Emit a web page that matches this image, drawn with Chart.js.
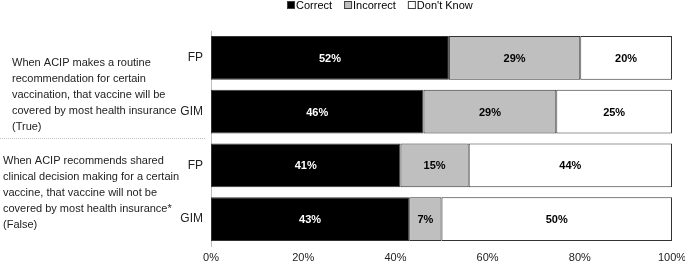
<!DOCTYPE html>
<html>
<head>
<meta charset="utf-8">
<script src="https://cdn.jsdelivr.net/npm/chart.js@4.4.1/dist/chart.umd.min.js"></script>
<style>
  html, body { margin: 0; padding: 0; background: #fff; }
  #wrap { width: 685px; height: 263px; position: relative; }
</style>
</head>
<body>
<div id="wrap"><canvas id="chart" width="685" height="263"></canvas></div>
<script>
// Data
const categories = ["FP", "GIM", "FP", "GIM"];
const correct = [51.6, 46.1, 41.1, 43.0];
const incorrect = [28.5, 28.8, 14.8, 7.0];
const dontKnow = [19.9, 25.1, 44.1, 50.0];
const correctLabels = ["52%", "46%", "41%", "43%"];
const incorrectLabels = ["29%", "29%", "15%", "7%"];
const dontKnowLabels = ["20%", "25%", "44%", "50%"];
const xTicks = [0, 20, 40, 60, 80, 100];
const seriesNames = ["Correct", "Incorrect", "Don't Know"];
const questionLines = [
  ["When ACIP makes a routine", "recommendation for certain", "vaccination, that vaccine will be",
   "covered by most health insurance", "(True)"],
  ["When ACIP recommends shared", "clinical decision making for a certain",
   "vaccine, that vaccine will not be", "covered by most health insurance*", "(False)"],
];

const FONT = '"Liberation Sans", Arial, sans-serif';
const colors = ["#000000", "#bfbfbf", "#ffffff"];
const labelSets = [correctLabels, incorrectLabels, dontKnowLabels];

// bar value labels
const barLabels = {
  id: "barLabels",
  afterDatasetsDraw(chart) {
    const ctx = chart.ctx;
    ctx.save();
    ctx.font = "bold 11px " + FONT;
    ctx.textAlign = "center";
    ctx.textBaseline = "middle";
    chart.data.datasets.forEach((ds, i) => {
      const meta = chart.getDatasetMeta(i);
      meta.data.forEach((bar, j) => {
        ctx.fillStyle = i === 0 ? "#ffffff" : "#000000";
        ctx.fillText(labelSets[i][j], (bar.x + bar.base) / 2, bar.y + 1);
      });
    });
    ctx.restore();
  },
};

// legend + question text on the left
const extras = {
  id: "extras",
  afterDraw(chart) {
    const ctx = chart.ctx;
    ctx.save();
    // legend
    ctx.font = "11px " + FONT;
    ctx.textBaseline = "middle";
    let x = 287;
    const y = 5;
    seriesNames.forEach((name, i) => {
      ctx.fillStyle = colors[i];
      ctx.fillRect(x, y - 4, 8, 8);
      ctx.strokeStyle = "#404040";
      ctx.lineWidth = 1;
      ctx.strokeRect(x + 0.5, y - 3.5, 7, 7);
      ctx.fillStyle = "#000";
      ctx.textAlign = "left";
      ctx.fillText(name, x + 9, y + 1);
      x += 9 + ctx.measureText(name).width + 12;
    });

    // questions
    ctx.font = "11px " + FONT;
    ctx.fillStyle = "#222";
    questionLines[0].forEach((line, k) => ctx.fillText(line, 12, 63 + k * 16));
    questionLines[1].forEach((line, k) => ctx.fillText(line, 3, 161 + k * 16));

    // dotted separator
    ctx.strokeStyle = "#bfbfbf";
    ctx.setLineDash([1, 1]);
    ctx.beginPath();
    ctx.moveTo(0, 138.5);
    ctx.lineTo(206, 138.5);
    ctx.stroke();
    ctx.restore();
  },
};

new Chart(document.getElementById("chart"), {
  type: "bar",
  data: {
    labels: categories,
    datasets: [
      { label: seriesNames[0], data: correct },
      { label: seriesNames[1], data: incorrect },
      { label: seriesNames[2], data: dontKnow },
    ].map((d, i) => ({
      ...d,
      backgroundColor: colors[i],
      borderColor: "#333333",
      borderWidth: 1,
      borderSkipped: false,
      barPercentage: 0.81,
      categoryPercentage: 1,
    })),
  },
  options: {
    indexAxis: "y",
    responsive: false,
    animation: false,
    layout: { padding: { top: 31, right: 0, left: 0, bottom: 0 } },
    plugins: { legend: { display: false }, tooltip: { enabled: false } },
    scales: {
      x: {
        stacked: true,
        min: 0,
        max: 100,
        afterBuildTicks: (s) => { s.ticks = xTicks.map((v) => ({ value: v })); },
        afterFit: (s) => { s.height = 17; s.paddingRight = 13; },
        ticks: { callback: (v) => v + "%", color: "#222", font: { family: FONT, size: 11 }, padding: 5, maxRotation: 0 },
        grid: { display: false, drawTicks: false },
        border: { display: false },
      },
      y: {
        stacked: true,
        afterFit: (s) => { s.width = 211; },
        ticks: { color: "#222", font: { family: FONT, size: 12 }, padding: 8 },
        grid: { display: false, drawTicks: false },
        border: { display: true, color: "#bfbfbf", width: 1 },
      },
    },
  },
  plugins: [barLabels, extras],
});
</script>
</body>
</html>
